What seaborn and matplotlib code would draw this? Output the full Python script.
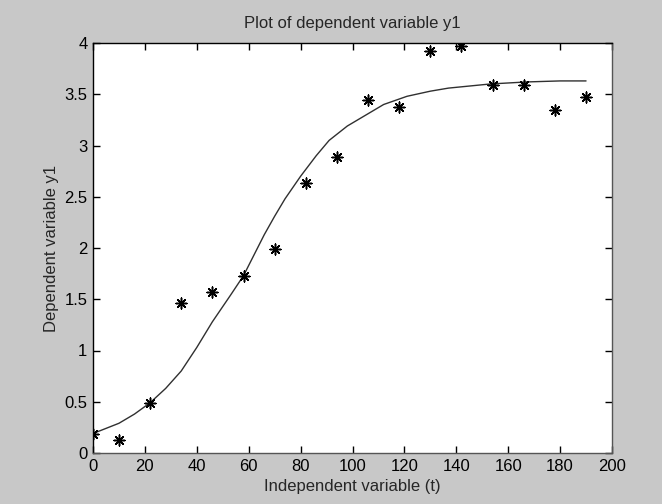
import pandas as pd
import seaborn as sns
import matplotlib.pyplot as plt
from matplotlib.ticker import MultipleLocator, FuncFormatter

# measured data (stars)
t_obs = [0, 10, 22, 34, 46, 58, 70, 82, 94, 106, 118, 130, 142, 154, 166, 178, 190]
y_obs = [0.19, 0.13, 0.49, 1.46, 1.57, 1.73, 1.99, 2.63, 2.89, 3.44, 3.38, 3.92, 3.97,
         3.59, 3.59, 3.35, 3.47]

# fitted curve
t_fit = [0, 5, 10, 16, 22, 28, 34, 40, 46, 53, 58, 62, 66, 70, 74, 80, 86, 91, 98,
         106, 112, 121, 130, 137, 145, 153, 167, 180, 190]
y_fit = [0.19, 0.24, 0.29, 0.38, 0.49, 0.63, 0.80, 1.03, 1.28, 1.54, 1.73, 1.93, 2.13,
         2.31, 2.48, 2.70, 2.90, 3.05, 3.19, 3.31, 3.40, 3.48, 3.53, 3.56, 3.58, 3.60,
         3.62, 3.63, 3.63]

obs = pd.DataFrame({"t": t_obs, "y": y_obs})
fit = pd.DataFrame({"t": t_fit, "y": y_fit})

sns.set_style("ticks")
plt.rcParams['font.family'] = ['Liberation Sans', 'DejaVu Sans']
plt.rcParams['xtick.direction'] = 'in'
plt.rcParams['ytick.direction'] = 'in'

fig = plt.figure(figsize=(6.62, 5.04), dpi=100, facecolor='#c8c8c8')
ax = fig.add_axes([93 / 662, 51 / 504, 519 / 662, 410 / 504])
ax.set_facecolor('white')

sns.lineplot(data=fit, x="t", y="y", ax=ax, color='#303030', linewidth=1.0)
sns.scatterplot(data=obs, x="t", y="y", ax=ax, marker=(8, 2, 0), s=60,
                color='black', edgecolor='black', linewidth=1.1, zorder=3)

ax.set_xlim(0, 200)
ax.set_ylim(0, 4)
ax.xaxis.set_major_locator(MultipleLocator(20))
ax.yaxis.set_major_locator(MultipleLocator(0.5))
ax.yaxis.set_major_formatter(FuncFormatter(lambda v, p: f"{v:g}"))
ax.tick_params(axis='both', which='both', top=True, right=True, length=5, width=1,
               labelsize=12, colors='black', pad=4)

# matlab-like box: left/top black, right/bottom a bit greyer
for s in ax.spines.values():
    s.set_visible(True)
    s.set_color('black')
    s.set_linewidth(1.0)
ax.spines['right'].set_color('#555555')
ax.spines['bottom'].set_color('#555555')

ax.set_title("Plot of dependent variable y1", fontsize=12, pad=11)
ax.set_xlabel("Independent variable (t)", fontsize=12)
ax.set_ylabel("Dependent variable y1", fontsize=12)
ax.yaxis.set_label_coords((52 - 93) / 519, 0.5)
ax.xaxis.set_label_coords(0.5, -(487 - 453) / 410)
ax.xaxis.label.set_va('center')
ax.yaxis.label.set_va('center')

fig.savefig("out.png", dpi=100, facecolor=fig.get_facecolor())
